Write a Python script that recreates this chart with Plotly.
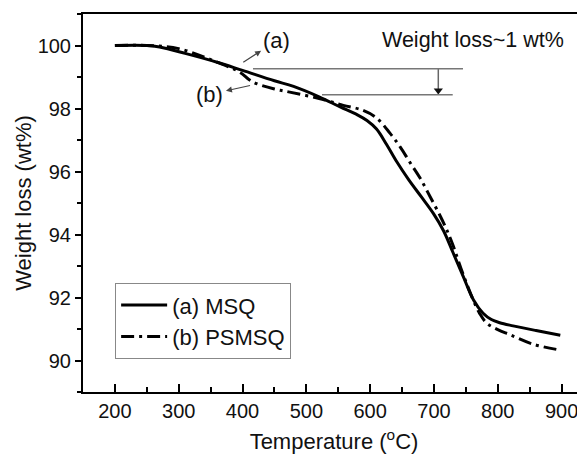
import plotly.graph_objects as go

# ---- data ----
msq_temp = [200, 250, 270, 310, 360, 400, 450, 480, 520, 553, 580, 595, 610, 626, 642, 660, 680, 699, 715, 730, 746, 762, 777, 790, 803, 824, 860, 898]
msq_wt = [100.0, 100.0, 99.95, 99.75, 99.47, 99.21, 98.88, 98.7, 98.37, 98.05, 97.8, 97.62, 97.35, 96.85, 96.3, 95.75, 95.2, 94.67, 94.12, 93.42, 92.66, 91.92, 91.5, 91.3, 91.2, 91.1, 90.95, 90.8]

psmsq_temp = [200, 250, 300, 360, 396, 410, 422, 450, 474, 520, 558, 589, 610, 631, 647, 662, 678, 694, 710, 720, 730, 741, 752, 762, 772, 783, 800, 819, 855, 898]
psmsq_wt = [100.0, 100.0, 99.9, 99.47, 99.15, 98.92, 98.79, 98.62, 98.52, 98.32, 98.1, 97.94, 97.7, 97.22, 96.78, 96.3, 95.8, 95.2, 94.58, 94.15, 93.65, 93.0, 92.4, 91.9, 91.48, 91.18, 90.98, 90.82, 90.52, 90.33]

x_ticks = [200, 300, 400, 500, 600, 700, 800, 900]
y_ticks = [90, 92, 94, 96, 98, 100]

# annotation geometry (data units)
upper_level = 99.26
lower_level = 98.44
upper_span = [416.4, 745.5]
lower_span = [524.5, 729.4]
drop_x = 706.8

FONT = "Liberation Sans, Arial, Helvetica, sans-serif"
TXT = "#111111"

fig = go.Figure()
fig.add_trace(go.Scatter(x=msq_temp, y=msq_wt, mode="lines", name="(a) MSQ",
                         line=dict(color="black", width=3, shape="spline", smoothing=1.0)))
fig.add_trace(go.Scatter(x=psmsq_temp, y=psmsq_wt, mode="lines", name="(b) PSMSQ",
                         line=dict(color="black", width=3, dash="13px,5px,3px,5px", shape="spline", smoothing=1.0)))

# level lines
fig.add_shape(type="line", x0=upper_span[0], x1=upper_span[1], y0=upper_level, y1=upper_level,
              line=dict(color="#777777", width=1.5), xref="x", yref="y")
fig.add_shape(type="line", x0=lower_span[0], x1=lower_span[1], y0=lower_level, y1=lower_level,
              line=dict(color="#777777", width=1.5), xref="x", yref="y")

# vertical drop arrow (shaft + head)
fig.add_trace(go.Scatter(x=[drop_x, drop_x], y=[upper_level, lower_level + 0.1], mode="lines",
                         line=dict(color="#666666", width=1.5), showlegend=False, hoverinfo="skip"))
fig.add_trace(go.Scatter(x=[drop_x], y=[lower_level + 0.13], mode="markers",
                         marker=dict(symbol="triangle-down", size=8, color="#111111"),
                         showlegend=False, hoverinfo="skip"))

# (a) / (b) labels with arrows pointing at the labels
fig.add_annotation(x=401.2, y=99.47, ax=454, ay=100.16, axref="x", ayref="y", xref="x", yref="y",
                   text="(a)", showarrow=True, arrowside="start", startarrowhead=2, startarrowsize=1,
                   arrowwidth=1.2, arrowcolor="#444444", standoff=0, startstandoff=1,
                   font=dict(size=22, family=FONT, color=TXT))
fig.add_annotation(x=411.8, y=98.73, ax=349, ay=98.45, axref="x", ayref="y", xref="x", yref="y",
                   text="(b)", showarrow=True, arrowside="start", startarrowhead=2, startarrowsize=1,
                   arrowwidth=1.2, arrowcolor="#444444", standoff=0, startstandoff=1,
                   font=dict(size=22, family=FONT, color=TXT))
fig.add_annotation(x=761, y=100.19, xref="x", yref="y", text="Weight loss~1 wt%", showarrow=False,
                   font=dict(size=21.5, family=FONT, color=TXT))

# the page body has an 8px margin, so the figure is sized/offset to compensate
fig.update_layout(
    width=577, height=450,
    margin=dict(l=75, r=0, t=6, b=66),
    paper_bgcolor="white", plot_bgcolor="white",
    font=dict(family=FONT, color=TXT, size=20),
    showlegend=True,
    legend=dict(x=0.064, y=0.288, xanchor="left", yanchor="top",
                bordercolor="#888888", borderwidth=1, bgcolor="white",
                font=dict(size=22, family=FONT, color=TXT), itemwidth=46,
                tracegroupgap=0),
    xaxis=dict(range=[150, 936.7], tickmode="array", tickvals=x_ticks, automargin=False,
               ticks="inside", ticklen=8, tickwidth=2, tickcolor="black",
               showline=True, linecolor="black", linewidth=2, mirror=True,
               showgrid=False, zeroline=False,
               minor=dict(dtick=50, tick0=150, ticks="inside", ticklen=5, tickwidth=2, tickcolor="black"),
               tickfont=dict(size=20),
               title=dict(text="Temperature (<sup>o</sup>C)", font=dict(size=22), standoff=13)),
    yaxis=dict(range=[89, 101], tickmode="array", tickvals=y_ticks, automargin=False,
               ticks="outside", ticklen=6, tickwidth=2, tickcolor="black",
               showline=True, linecolor="black", linewidth=2, mirror=False,
               showgrid=False, zeroline=False,
               minor=dict(dtick=1, tick0=89, ticks="outside", ticklen=4, tickwidth=2, tickcolor="black"),
               tickfont=dict(size=20),
               title=dict(text="Weight loss (wt%)", font=dict(size=22), standoff=0)),
)

fig.write_html("out.html")
